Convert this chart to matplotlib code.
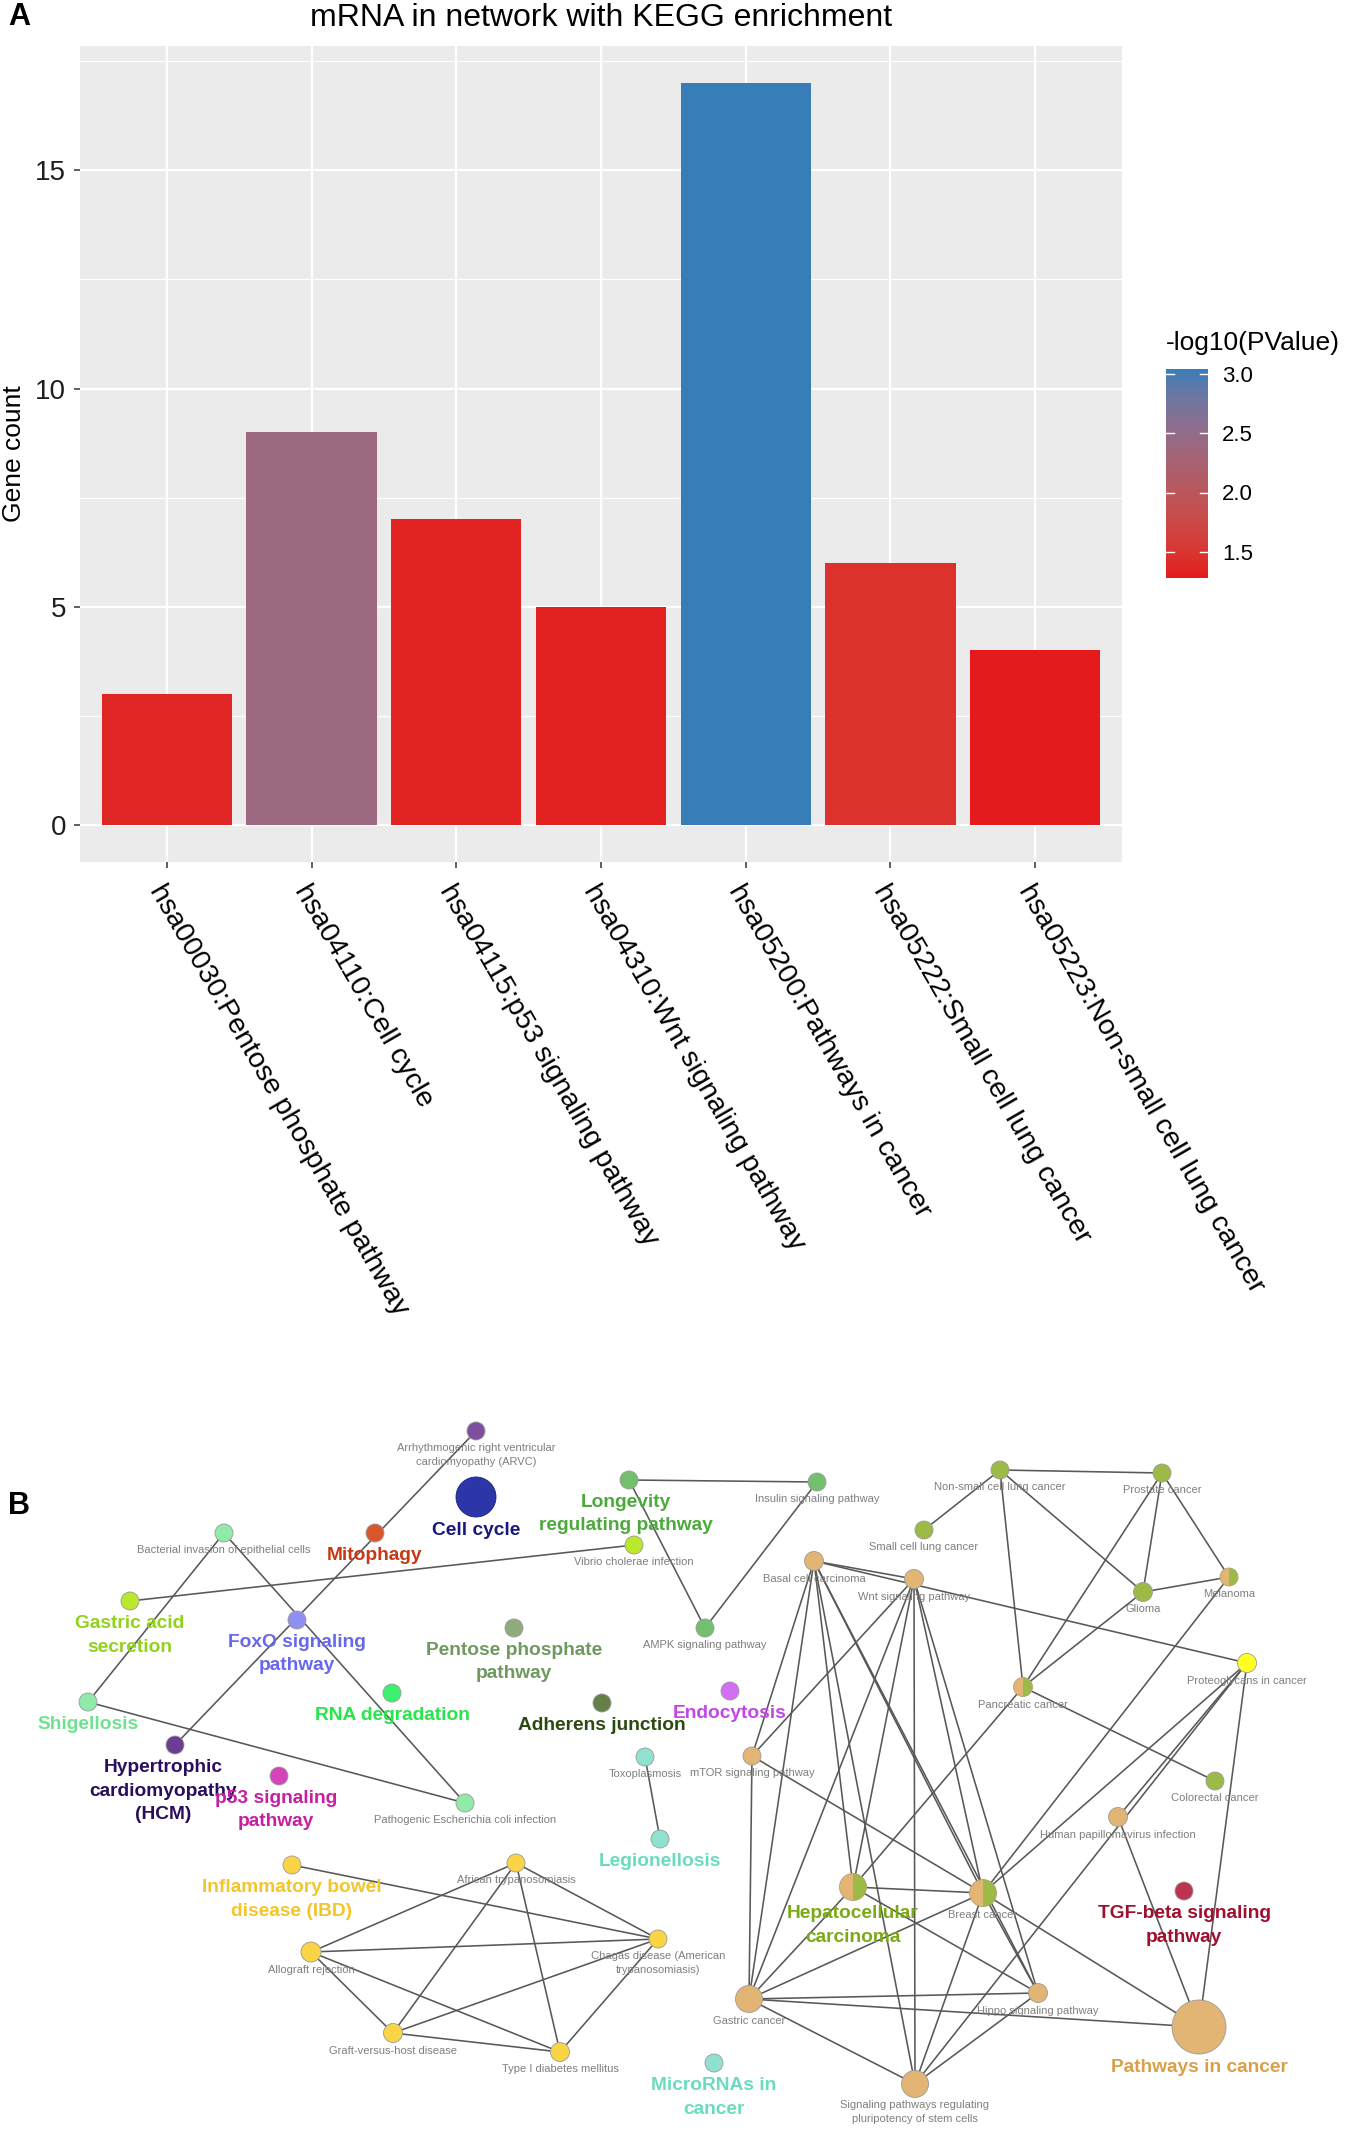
import numpy as np
import matplotlib
matplotlib.use('Agg')
import matplotlib.pyplot as plt
from matplotlib.colors import ListedColormap
from matplotlib.patches import Circle, Wedge

plt.rcParams['font.family'] = ['Liberation Sans', 'DejaVu Sans']

# ---------------- panel A data ----------------
pathways = ['hsa00030:Pentose phosphate pathway', 'hsa04110:Cell cycle',
            'hsa04115:p53 signaling pathway', 'hsa04310:Wnt signaling pathway',
            'hsa05200:Pathways in cancer', 'hsa05222:Small cell lung cancer',
            'hsa05223:Non-small cell lung cancer']
gene_count = [3, 9, 7, 5, 17, 6, 4]
neg_log_p = [1.36, 2.40, 1.34, 1.33, 3.04, 1.45, 1.28]
cbar_ticks = [1.5, 2.0, 2.5, 3.0]

# ---------------- panel B data (ClueGO style network, layout in pixels) ----------------
node_key = ['arvc', 'cellcycle', 'mito', 'bact', 'longev', 'insulin', 'vibrio', 'gastacid',
            'foxo', 'pentose', 'ampk', 'rna', 'adherens', 'endo', 'shig', 'hcm', 'p53',
            'toxo', 'mtor', 'ecoli', 'legion', 'ibd', 'african', 'chagas', 'allograft',
            'gvhd', 't1d', 'mirna', 'nsclc', 'prostate', 'sclc', 'basal', 'wnt', 'glioma',
            'melanoma', 'proteo', 'pancreatic', 'colorectal', 'hpv', 'hcc', 'breast',
            'tgfb', 'hippo', 'gastric', 'pic', 'stem']
node_label = ['Arrhythmogenic right ventricular\ncardiomyopathy (ARVC)', 'Cell cycle', 'Mitophagy',
              'Bacterial invasion of epithelial cells', 'Longevity\nregulating pathway',
              'Insulin signaling pathway', 'Vibrio cholerae infection', 'Gastric acid\nsecretion',
              'FoxO signaling\npathway', 'Pentose phosphate\npathway', 'AMPK signaling pathway',
              'RNA degradation', 'Adherens junction', 'Endocytosis', 'Shigellosis',
              'Hypertrophic\ncardiomyopathy\n(HCM)', 'p53 signaling\npathway', 'Toxoplasmosis',
              'mTOR signaling pathway', 'Pathogenic Escherichia coli infection', 'Legionellosis',
              'Inflammatory bowel\ndisease (IBD)', 'African trypanosomiasis',
              'Chagas disease (American\ntrypanosomiasis)', 'Allograft rejection',
              'Graft-versus-host disease', 'Type I diabetes mellitus', 'MicroRNAs in\ncancer',
              'Non-small cell lung cancer', 'Prostate cancer', 'Small cell lung cancer',
              'Basal cell carcinoma', 'Wnt signaling pathway', 'Glioma', 'Melanoma',
              'Proteoglycans in cancer', 'Pancreatic cancer', 'Colorectal cancer',
              'Human papillomavirus infection', 'Hepatocellular\ncarcinoma', 'Breast cancer',
              'TGF-beta signaling\npathway', 'Hippo signaling pathway', 'Gastric cancer',
              'Pathways in cancer', 'Signaling pathways regulating\npluripotency of stem cells']
node_x = [476, 476, 375, 224, 629, 817, 634, 130, 297, 514, 705, 392, 602, 730, 88, 175, 279,
          645, 752, 465, 660, 292, 516, 658, 311, 393, 560, 714, 1000, 1162, 924, 814, 914,
          1143, 1229, 1247, 1023, 1215, 1118, 853, 983, 1184, 1038, 749, 1199, 915]
node_y = [1431, 1497, 1533, 1533, 1480, 1482, 1545, 1601, 1620, 1628, 1628, 1693, 1703, 1691,
          1702, 1745, 1776, 1757, 1756, 1803, 1839, 1865, 1863, 1939, 1952, 2033, 2052, 2063,
          1470, 1473, 1530, 1561, 1579, 1592, 1577, 1663, 1687, 1781, 1817, 1887, 1893, 1891,
          1993, 1999, 2027, 2084]
node_r = [9, 20, 9, 9, 9, 9, 9, 9, 9, 9, 9, 9, 9, 9, 9, 9, 9, 9, 9, 9, 9, 9, 9, 9, 10, 9.5, 9.5,
          9, 9, 9, 9, 9.5, 9.5, 9.5, 9, 9.5, 9.5, 9, 9.5, 13.5, 13.5, 9, 9.5, 13.5, 27, 13.5]
# term groups (ClueGO colouring); split nodes belong to two groups
node_group = ['arvc', 'cellcycle', 'mito', 'shig', 'longev', 'longev', 'gastacid', 'gastacid',
              'foxo', 'pentose', 'longev', 'rna', 'adherens', 'endo', 'shig', 'hcm', 'p53',
              'legion', 'pic', 'shig', 'legion', 'ibd', 'ibd', 'ibd', 'ibd', 'ibd', 'ibd',
              'legion', 'hcc', 'hcc', 'hcc', 'pic', 'pic', 'hcc', 'pic|hcc', 'proteo',
              'pic|hcc', 'hcc', 'pic', 'pic|hcc', 'pic|hcc', 'tgfb', 'pic', 'pic', 'pic', 'pic']
leading_term = ['cellcycle', 'mito', 'longev', 'gastacid', 'foxo', 'pentose', 'rna', 'adherens',
                'endo', 'shig', 'hcm', 'p53', 'legion', 'ibd', 'mirna', 'hcc', 'tgfb', 'pic']
label_shift = {'hcm': -12, 'p53': -3, 'longev': -3}
group_node_color = {'arvc': '#7d4f9e', 'cellcycle': '#2c36a8', 'mito': '#d9582b',
                    'shig': '#90eaaa', 'longev': '#72c06e', 'gastacid': '#b9e82c',
                    'foxo': '#8f8ff2', 'pentose': '#8fab7c', 'rna': '#3df06f',
                    'adherens': '#667f48', 'endo': '#d46ef2', 'hcm': '#6a3e92',
                    'p53': '#d444b8', 'legion': '#8fe2cf', 'ibd': '#f9d545',
                    'hcc': '#9cbb46', 'pic': '#e2b574', 'proteo': '#ffff22', 'tgfb': '#bd3350'}
group_text_color = {'cellcycle': '#18187e', 'mito': '#c83814', 'longev': '#4caa3c',
                    'gastacid': '#93d21c', 'foxo': '#6767ef', 'pentose': '#6f9a5e',
                    'rna': '#27e649', 'adherens': '#2b4a10', 'endo': '#c445e8',
                    'shig': '#6fe290', 'hcm': '#2a0e5c', 'p53': '#c81ea2',
                    'legion': '#69dcbe', 'mirna': '#69dcbe', 'ibd': '#f4c52a',
                    'hcc': '#7aaa16', 'tgfb': '#a10f2e', 'pic': '#d8a04a'}
edges = [('arvc', 'hcm'), ('bact', 'shig'), ('bact', 'ecoli'), ('shig', 'ecoli'),
         ('gastacid', 'vibrio'), ('longev', 'insulin'), ('longev', 'ampk'), ('insulin', 'ampk'),
         ('toxo', 'legion'),
         ('ibd', 'chagas'), ('allograft', 'african'), ('allograft', 'chagas'),
         ('allograft', 'gvhd'), ('allograft', 't1d'), ('african', 'chagas'), ('african', 'gvhd'),
         ('african', 't1d'), ('chagas', 'gvhd'), ('chagas', 't1d'), ('gvhd', 't1d'),
         ('nsclc', 'prostate'), ('nsclc', 'sclc'), ('nsclc', 'glioma'), ('nsclc', 'pancreatic'),
         ('prostate', 'glioma'), ('prostate', 'melanoma'), ('prostate', 'pancreatic'),
         ('glioma', 'melanoma'), ('glioma', 'pancreatic'), ('pancreatic', 'colorectal'),
         ('pancreatic', 'hcc'), ('melanoma', 'breast'),
         ('basal', 'wnt'), ('basal', 'proteo'), ('basal', 'mtor'), ('basal', 'gastric'),
         ('basal', 'hcc'), ('basal', 'stem'), ('basal', 'breast'), ('basal', 'hippo'),
         ('wnt', 'mtor'), ('wnt', 'gastric'), ('wnt', 'hcc'), ('wnt', 'stem'), ('wnt', 'breast'),
         ('wnt', 'hippo'), ('mtor', 'gastric'), ('mtor', 'breast'),
         ('proteo', 'breast'), ('proteo', 'hpv'), ('proteo', 'stem'), ('proteo', 'pic'),
         ('hpv', 'pic'), ('hcc', 'gastric'), ('hcc', 'breast'), ('hcc', 'hippo'),
         ('breast', 'gastric'), ('breast', 'hippo'), ('breast', 'stem'), ('breast', 'pic'),
         ('gastric', 'hippo'), ('gastric', 'pic'), ('gastric', 'stem'), ('hippo', 'stem')]


# ggplot-like gradient (interpolated in CIELAB)
M = np.array([[0.4124, 0.3576, 0.1805], [0.2126, 0.7152, 0.0722], [0.0193, 0.1192, 0.9505]])
WHITE = np.array([0.95047, 1.0, 1.08883])


def hex_to_lab(h):
    c = np.array([int(h[i:i + 2], 16) for i in (1, 3, 5)]) / 255.0
    lin = np.where(c <= 0.04045, c / 12.92, ((c + 0.055) / 1.055) ** 2.4)
    xyz = M @ lin / WHITE
    f = np.where(xyz > (6 / 29) ** 3, np.cbrt(xyz), xyz / (3 * (6 / 29) ** 2) + 4 / 29)
    return np.array([116 * f[1] - 16, 500 * (f[0] - f[1]), 200 * (f[1] - f[2])])


def lab_to_rgb(lab):
    fy = (lab[:, 0] + 16) / 116
    f = np.stack([fy + lab[:, 1] / 500, fy, fy - lab[:, 2] / 200], -1)
    xyz = np.where(f > 6 / 29, f ** 3, 3 * (6 / 29) ** 2 * (f - 4 / 29)) * WHITE
    lin = np.clip(xyz @ np.linalg.inv(M).T, 0, 1)
    return np.clip(np.where(lin <= 0.0031308, 12.92 * lin, 1.055 * lin ** (1 / 2.4) - 0.055), 0, 1)


t = np.linspace(0, 1, 256)[:, None]
lab = hex_to_lab('#E41A1C') * (1 - t) + hex_to_lab('#377EB8') * t
cmap = ListedColormap(lab_to_rgb(lab))

W, H = 1350, 2130
fig = plt.figure(figsize=(W / 100, H / 100), dpi=100)

# ---------------- network (panel B), drawn in pixel coordinates ----------------
net = fig.add_axes([0, 0, 1, 1])
net.set_xlim(0, W)
net.set_ylim(H, 0)
net.axis('off')

idx = {k: i for i, k in enumerate(node_key)}
for a, b in edges:
    i, j = idx[a], idx[b]
    net.plot([node_x[i], node_x[j]], [node_y[i], node_y[j]], color='#585858', lw=1.15, zorder=1)

for i, k in enumerate(node_key):
    xc, yc, r = node_x[i], node_y[i], node_r[i]
    groups = node_group[i].split('|')
    if len(groups) == 2:
        net.add_patch(Wedge((xc, yc), r, 90, 270, facecolor=group_node_color[groups[0]],
                            edgecolor='none', zorder=2))
        net.add_patch(Wedge((xc, yc), r, -90, 90, facecolor=group_node_color[groups[1]],
                            edgecolor='none', zorder=2))
        net.add_patch(Circle((xc, yc), r, facecolor='none', edgecolor='#b0a070', lw=0.6, zorder=2))
    else:
        ec = '#1a237e' if k == 'cellcycle' else '#9a9a9a'
        net.add_patch(Circle((xc, yc), r, facecolor=group_node_color[groups[0]],
                             edgecolor=ec, lw=0.6, zorder=2))
    lx = xc + label_shift.get(k, 0)
    if k in leading_term:
        net.text(lx, yc + r + 5, node_label[i], ha='center', va='top', fontsize=13.8,
                 fontweight='bold', color=group_text_color[k], linespacing=1.5, zorder=3)
    else:
        net.text(lx, yc + r + 3, node_label[i], ha='center', va='top', fontsize=8,
                 color='#7f7f7f', linespacing=1.45, zorder=3)

fig.text(8 / W, 1 - 1506 / H, 'B', fontsize=22, fontweight='bold', va='center', ha='left')

# ---------------- bar chart (panel A) ----------------
L, R, T, B = 80, 1122, 46, 862
ax = fig.add_axes([L / W, 1 - B / H, (R - L) / W, (B - T) / H])
ax.set_facecolor('#EBEBEB')
x = np.arange(len(pathways))
norm = plt.Normalize(min(neg_log_p), max(neg_log_p))
ax.bar(x, gene_count, width=0.9, color=cmap(norm(neg_log_p)), zorder=3)
ax.set_xlim(-0.6, len(pathways) - 0.4)
ax.set_ylim(-0.85, 17.85)
ax.set_yticks([0, 5, 10, 15])
ax.set_yticks([2.5, 7.5, 12.5, 17.5], minor=True)
ax.grid(which='major', color='white', lw=1.6, zorder=0)
ax.grid(which='minor', axis='y', color='white', lw=0.8, zorder=0)
ax.set_axisbelow(True)
for s in ax.spines.values():
    s.set_visible(False)
ax.tick_params(axis='both', which='major', length=4, width=1.1, color='#333333')
ax.tick_params(axis='both', which='minor', length=0)
ax.tick_params(axis='y', labelsize=20, labelcolor='#1e1e1e', pad=6)
ax.tick_params(axis='x', pad=9)
ax.set_xticks(x)
ax.set_xticklabels(pathways, rotation=-60, ha='left', va='top', rotation_mode='anchor',
                   fontsize=20.5, color='black')

fig.text((L + R) / 2 / W, 1 - 18 / H, 'mRNA in network with KEGG enrichment',
         fontsize=23, ha='center', va='center')
fig.text(14 / W, 1 - 454 / H, 'Gene count', fontsize=19, rotation=90, ha='center', va='center')
fig.text(8 / W, 1 - 17 / H, 'A', fontsize=22, fontweight='bold', va='center', ha='left')

# colourbar
vmin, vmax = min(neg_log_p), max(neg_log_p)
cax = fig.add_axes([1166 / W, 1 - 578 / H, 42 / W, 209 / H])
grad = np.linspace(vmin, vmax, 256)[:, None]
cax.imshow(grad, cmap=cmap, aspect='auto', origin='lower', extent=[0, 1, vmin, vmax])
for v in cbar_ticks:
    cax.plot([0, 0.2], [v, v], color='white', lw=1)
    cax.plot([0.8, 1.0], [v, v], color='white', lw=1)
cax.set_xlim(0, 1)
cax.set_ylim(vmin, vmax)
cax.set_xticks([])
cax.yaxis.tick_right()
cax.set_yticks(cbar_ticks)
cax.set_yticklabels([f'{v:.1f}' for v in cbar_ticks])
cax.tick_params(axis='y', length=0, labelsize=16, pad=10)
for s in cax.spines.values():
    s.set_visible(False)
fig.text(1166 / W, 1 - 343 / H, '-log10(PValue)', fontsize=19, ha='left', va='center')

fig.savefig('out.png', dpi=100)
